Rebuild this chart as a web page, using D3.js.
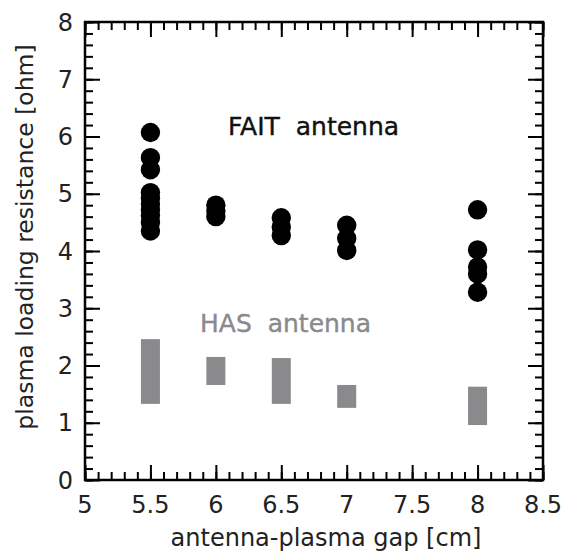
<!DOCTYPE html>
<html>
<head>
<meta charset="utf-8">
<script src="https://cdn.jsdelivr.net/npm/d3@7"></script>
<style>
  body { margin: 0; background: #fff; }
  text { font-family: "DejaVu Sans", sans-serif; }
</style>
</head>
<body>
<svg id="chart" width="563" height="556"></svg>
<script>
// gap positions [cm]
const gaps = [5.5, 6, 6.5, 7, 8];

// FAIT antenna, loading resistance [ohm] per gap
const faitValues = [
  [6.07, 5.63, 5.42, 5.02, 4.92, 4.82, 4.72, 4.62, 4.5, 4.35],
  [4.80, 4.70, 4.60],
  [4.58, 4.42, 4.27],
  [4.45, 4.22, 4.01],
  [4.72, 4.02, 3.72, 3.6, 3.28]
];

// HAS antenna ranges [ohm]
const hasLow  = [1.33, 1.66, 1.33, 1.26, 0.96];
const hasHigh = [2.46, 2.15, 2.13, 1.66, 1.63];

const xTicks = [5, 5.5, 6, 6.5, 7, 7.5, 8, 8.5];
const yTicks = [0, 1, 2, 3, 4, 5, 6, 7, 8];

const margin = {left: 85, right: 20, top: 22, bottom: 76};
const width = 563, height = 556;
const svg = d3.select("#chart");

let x = d3.scaleLinear().domain([5, 8.5]).range([margin.left, width - margin.right]);
let y = d3.scaleLinear().domain([0, 8]).range([height - margin.bottom, margin.top]);

// minor ticks: 0.1 on x, 0.2 on y
let xMinor = d3.range(0, 36).map(i => 5 + i * 0.1);
let yMinor = d3.range(0, 41).map(i => i * 0.2);

function tickAxis(axisFn, scale, ticks, size) {
  return axisFn(scale)
    .tickValues(ticks)
    .tickSize(size)
    .tickFormat("");
}

const x0 = margin.left, x1 = width - margin.right;
const y0 = height - margin.bottom, y1 = margin.top;

// ticks point inward on all four sides
let gb = svg.append("g").attr("transform", `translate(0,${y0})`);
gb.append("g").call(tickAxis(d3.axisTop, x, xMinor, 8));
gb.append("g").call(tickAxis(d3.axisTop, x, xTicks, 15));
let gt = svg.append("g").attr("transform", `translate(0,${y1})`);
gt.append("g").call(tickAxis(d3.axisBottom, x, xMinor, 8));
gt.append("g").call(tickAxis(d3.axisBottom, x, xTicks, 15));
let gl = svg.append("g").attr("transform", `translate(${x0},0)`);
gl.append("g").call(tickAxis(d3.axisRight, y, yMinor, 8));
gl.append("g").call(tickAxis(d3.axisRight, y, yTicks, 15));
let gr = svg.append("g").attr("transform", `translate(${x1},0)`);
gr.append("g").call(tickAxis(d3.axisLeft, y, yMinor, 8));
gr.append("g").call(tickAxis(d3.axisLeft, y, yTicks, 15));

svg.selectAll(".domain").remove();
svg.selectAll(".tick line").attr("stroke", "#000").attr("stroke-width", 2);

// tick labels
svg.append("g").selectAll("text")
  .data(xTicks)
  .enter()
  .append("text")
  .attr("x", d => x(d))
  .attr("y", y0 + 33)
  .attr("text-anchor", "middle")
  .attr("font-size", 24)
  .attr("fill", "#222")
  .text(d => d);

svg.append("g").selectAll("text")
  .data(yTicks)
  .enter()
  .append("text")
  .attr("x", x0 - 12)
  .attr("y", d => y(d))
  .attr("dy", "0.36em")
  .attr("text-anchor", "end")
  .attr("font-size", 24)
  .attr("fill", "#222")
  .text(d => d);

// frame
svg.append("rect")
  .attr("x", x0).attr("y", y1)
  .attr("width", x1 - x0).attr("height", y0 - y1)
  .attr("fill", "none")
  .attr("stroke", "#000")
  .attr("stroke-width", 2.5);

// HAS bars
svg.append("g").selectAll("rect")
  .data(gaps)
  .enter()
  .append("rect")
  .attr("x", d => x(d) - 9.5)
  .attr("width", 19)
  .attr("y", (d, i) => y(hasHigh[i]))
  .attr("height", (d, i) => y(hasLow[i]) - y(hasHigh[i]))
  .attr("fill", "#8a8a8c");

// FAIT circles
let pts = [];
gaps.forEach((g, i) => faitValues[i].forEach(v => pts.push({gap: g, r: v})));
svg.append("g").selectAll("circle")
  .data(pts)
  .enter()
  .append("circle")
  .attr("cx", d => x(d.gap))
  .attr("cy", d => y(d.r))
  .attr("r", 9.7)
  .attr("fill", "#000");

// annotations
svg.append("text")
  .attr("x", 228).attr("y", 135)
  .attr("font-size", 25)
  .attr("fill", "#111")
  .attr("stroke", "#111").attr("stroke-width", 0.4)
  .style("white-space", "pre")
  .text("FAIT  antenna");

svg.append("text")
  .attr("x", 200).attr("y", 332)
  .attr("font-size", 25)
  .attr("fill", "#8a8a8c")
  .attr("stroke", "#8a8a8c").attr("stroke-width", 0.4)
  .style("white-space", "pre")
  .text("HAS  antenna");

// axis titles
svg.append("text")
  .attr("x", 326).attr("y", 546)
  .attr("text-anchor", "middle")
  .attr("font-size", 24)
  .attr("fill", "#222")
  .text("antenna-plasma gap [cm]");

svg.append("text")
  .attr("transform", `translate(33,237) rotate(-90)`)
  .attr("text-anchor", "middle")
  .attr("font-size", 23.5)
  .attr("fill", "#222")
  .text("plasma loading resistance [ohm]");
</script>
</body>
</html>
